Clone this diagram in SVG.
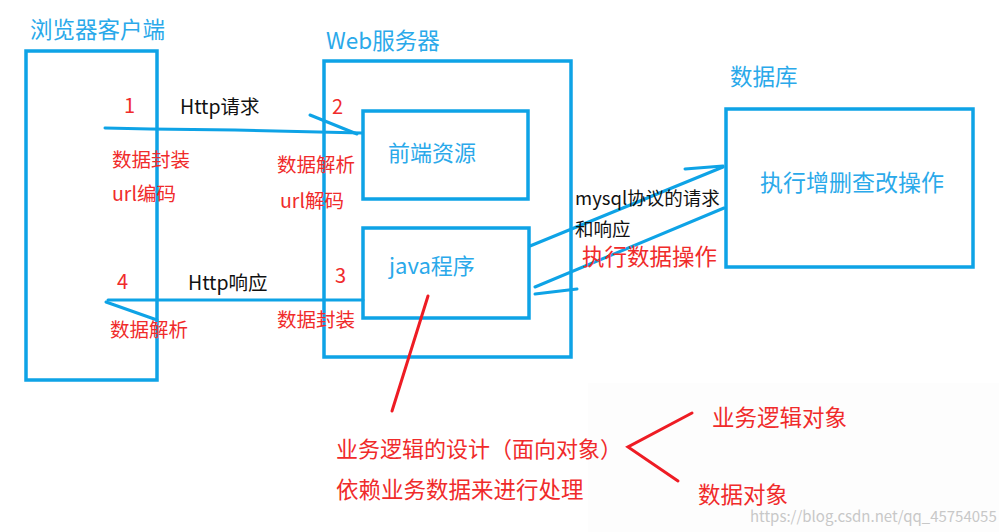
<svg xmlns="http://www.w3.org/2000/svg" width="999" height="532" viewBox="0 0 999 532">
<style>
text{font-family:"Noto Sans CJK SC","Noto Sans",sans-serif}
.box{fill:none;stroke:#0ea3e6;stroke-width:3.5}
.ln{fill:none;stroke:#0ea3e6;stroke-width:3;stroke-linecap:round}
.rl{fill:none;stroke:#ee1c24;stroke-width:3;stroke-linecap:round}
.bt{fill:#2aa9ea}
.rt{fill:#f02b2b}
.kt{fill:#111}
</style>
<rect width="999" height="532" fill="#fff"/>
<rect x="588" y="383" width="411" height="149" fill="#fdfdfd"/>
<g id="client">
<rect class="box" x="26" y="51" width="131" height="329"/>
<text class="bt" x="30" y="38" font-size="22.5">浏览器客户端</text>
</g>
<g id="server">
<rect class="box" x="324" y="61" width="247" height="296"/>
<text class="bt" x="326" y="49" font-size="22.5">Web服务器</text>
</g>
<g id="frontend">
<rect class="box" x="363" y="111" width="165" height="88"/>
<text class="bt" x="388" y="161" font-size="22">前端资源</text>
</g>
<g id="java">
<rect class="box" x="363" y="228" width="166" height="90"/>
<text class="bt" x="389" y="274" font-size="22">java程序</text>
</g>
<g id="database">
<rect class="box" x="726" y="109" width="247" height="158"/>
<text class="bt" x="730" y="85" font-size="22.5">数据库</text>
<text class="bt" x="760" y="191" font-size="23">执行增删查改操作</text>
</g>
<g id="connectors">
<polyline class="ln" points="105,128 150,129 235,130 362,133"/>
<line class="ln" x1="310" y1="115" x2="357" y2="134"/>
<line class="ln" x1="108" y1="300" x2="363" y2="300"/>
<line class="ln" x1="106" y1="302" x2="157" y2="320"/>
<line class="ln" x1="530" y1="246" x2="723" y2="167"/>
<line class="ln" x1="685" y1="169" x2="723" y2="166"/>
<line class="ln" x1="724" y1="208" x2="535" y2="287"/>
<line class="ln" x1="535" y1="294" x2="577" y2="289"/>
<line class="rl" x1="428" y1="296" x2="392" y2="411"/>
<polyline class="rl" points="692,413 628,447 678,481"/>
</g>
<g id="labels">
<text class="rt" x="124" y="113" font-size="20">1</text>
<text class="kt" x="180" y="114" font-size="19.5">Http请求</text>
<text class="rt" x="112" y="167" font-size="19.5">数据封装</text>
<text class="rt" x="112" y="201" font-size="19.5">url编码</text>
<text class="rt" x="332" y="114" font-size="20">2</text>
<text class="rt" x="277" y="172" font-size="19.5">数据解析</text>
<text class="rt" x="280" y="208" font-size="19.5">url解码</text>
<text class="rt" x="335" y="283" font-size="20">3</text>
<text class="rt" x="117" y="289" font-size="20">4</text>
<text class="kt" x="188" y="290" font-size="19.5">Http响应</text>
<text class="rt" x="110" y="337" font-size="19.5">数据解析</text>
<text class="rt" x="277" y="327" font-size="19.5">数据封装</text>
<text class="kt" x="575" y="205" font-size="18.5">mysql协议的请求</text>
<text class="kt" x="575" y="236" font-size="18.5">和响应</text>
<text class="rt" x="582" y="265" font-size="22.5">执行数据操作</text>
<text class="rt" x="336" y="457" font-size="22">业务逻辑的设计（面向对象）</text>
<text class="rt" x="336" y="498" font-size="22.5">依赖业务数据来进行处理</text>
<text class="rt" x="712" y="426" font-size="22.5">业务逻辑对象</text>
<text class="rt" x="698" y="503" font-size="22.5">数据对象</text>
<text x="750" y="522" font-size="15" fill="#c8c8c8" font-family="Liberation Sans, sans-serif">https://blog.csdn.net/qq_45754055</text>
</g>
</svg>
